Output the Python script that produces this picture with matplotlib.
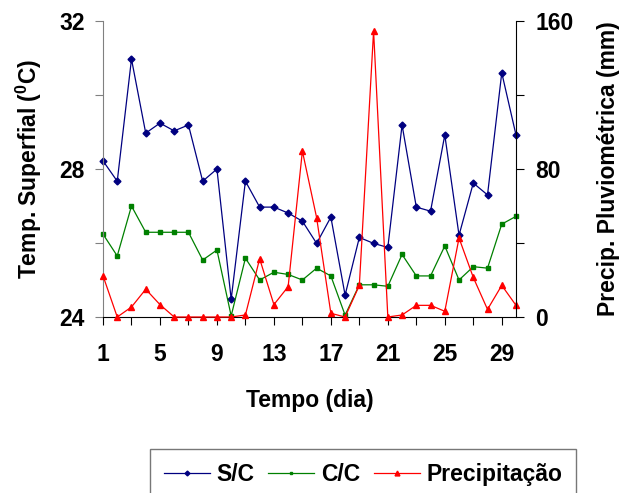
import matplotlib
matplotlib.use("Agg")
from matplotlib import pyplot as plt

plt.rcParams['font.family'] = ['Liberation Sans', 'DejaVu Sans']
plt.rcParams['font.weight'] = 'bold'
plt.rcParams['mathtext.fontset'] = 'custom'
plt.rcParams['mathtext.rm'] = 'Liberation Sans:bold'
plt.rcParams['mathtext.bf'] = 'Liberation Sans:bold'

dia = list(range(1, 31))
sc = [28.22, 27.67, 30.97, 28.97, 29.24, 29.03, 29.19, 27.67, 28.00, 24.48,
      27.67, 26.97, 26.97, 26.81, 26.59, 25.99, 26.70, 24.59, 26.15, 25.99,
      25.88, 29.19, 26.97, 26.86, 28.92, 26.21, 27.62, 27.30, 30.60, 28.92]
cc = [26.24, 25.65, 27.00, 26.29, 26.29, 26.29, 26.29, 25.54, 25.81, 24.03,
      25.59, 25.00, 25.21, 25.15, 25.00, 25.32, 25.11, 24.05, 24.87, 24.87,
      24.83, 25.69, 25.11, 25.11, 25.92, 25.00, 25.36, 25.32, 26.51, 26.72]
prec = [22.3, 0, 5.4, 15.0, 6.7, 0, 0, 0, 0, 0,
        1.1, 31.5, 6.7, 16.4, 89.7, 53.7, 2.0, 0, 17.1, 154.6,
        0, 1.1, 6.3, 6.3, 3.1, 42.7, 21.4, 4.1, 17.1, 6.3]

fs = 16.5

fig = plt.figure(figsize=(6.26, 4.93), dpi=100)
ax = fig.add_axes([103/626, 1-317/493, 413/626, 296/493])
ax2 = ax.twinx()

l1, = ax.plot(dia, sc, c='#000080', lw=0.9, marker='D', ms=3.5, label='S/C', clip_on=False)
l2, = ax.plot(dia, cc, c='#008000', lw=0.9, marker='s', ms=2.8, label='C/C', clip_on=False)
l3, = ax2.plot(dia, prec, c='#ff0000', lw=0.9, marker='^', ms=5, label='Precipitação', clip_on=False)

ax.set_xlim(1, 30)
ax.set_ylim(24, 32)
ax2.set_ylim(0, 160)

xt = list(range(1, 30, 2))
ax.set_xticks(xt)
ax.set_xticklabels([str(d) if (d - 1) % 4 == 0 else '' for d in xt])
ax.set_yticks([24, 26, 28, 30, 32])
ax.set_yticklabels(['24', '', '28', '', '32'])
ax2.set_yticks([0, 40, 80, 120, 160])
ax2.set_yticklabels(['0', '', '80', '', '160'])

ax.tick_params(axis='x', labelsize=fs, length=6, pad=13, direction='out')
ax.tick_params(axis='y', labelsize=fs, length=6, pad=7, direction='out', color='#808080')
ax2.tick_params(axis='y', labelsize=fs, length=6, pad=8, direction='out')

for s in ['top', 'right']:
    ax.spines[s].set_visible(False)
for s in ['top', 'left', 'bottom']:
    ax2.spines[s].set_visible(False)
ax.spines['left'].set_color('#808080')

ax.set_xlabel('Tempo (dia)', fontsize=fs, fontweight='bold', labelpad=16)
ax.set_ylabel(r'Temp. Superfial ($^{0}$C)', fontsize=fs, fontweight='bold', labelpad=11)
ax2.set_ylabel('Precip. Pluviométrica (mm)', fontsize=fs, fontweight='bold', labelpad=17)

leg = fig.legend(handles=[l1, l2, l3], loc='upper center', bbox_to_anchor=(363/626, 1-449/493),
                 ncol=3, fontsize=fs, frameon=True, fancybox=False, edgecolor='#555555',
                 borderpad=0.6, borderaxespad=0, handlelength=2.0, columnspacing=0.6,
                 handletextpad=0.3, markerscale=0.7)
leg.get_frame().set_linewidth(1.0)

fig.savefig('out.png', dpi=100)
